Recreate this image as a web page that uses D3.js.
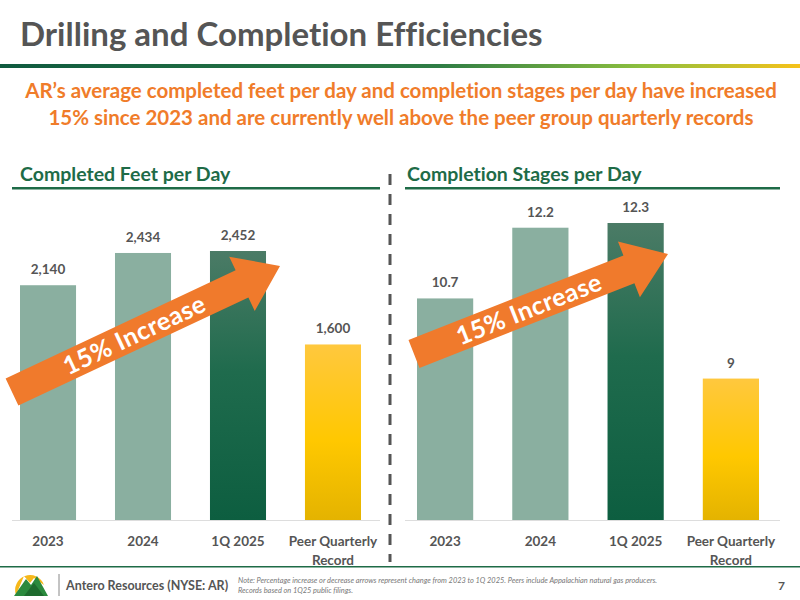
<!DOCTYPE html>
<html><head><meta charset="utf-8">
<script src="https://cdn.jsdelivr.net/npm/d3@7"></script>
<style>body{margin:0;background:#fff}svg{display:block;font-family:Lato,"Open Sans",sans-serif;font-variant-ligatures:none}</style>
</head><body><svg id="c" width="800" height="600"></svg>
<script>
const categories = ["2023","2024","1Q 2025","Peer Quarterly|Record"];
const feetValues = [2140,2434,2452,1600];
const feetLabels = ["2,140","2,434","2,452","1,600"];
const stageValues = [10.7,12.2,12.3,9];
const stageLabels = ["10.7","12.2","12.3","9"];

const svg = d3.select("#c");
const defs = svg.append("defs");
const hg = defs.append("linearGradient").attr("id","hg");
[["0%","#0f5a3f"],["55%","#2f7d45"],["80%","#8cbf3f"],["100%","#f6c21a"]].forEach(s=>hg.append("stop").attr("offset",s[0]).attr("stop-color",s[1]));
const dg = defs.append("linearGradient").attr("id","dg").attr("x1",0).attr("x2",0).attr("y1",0).attr("y2",1);
[["0%","#4b7b66"],["45%","#1f6b4d"],["100%","#0d5e40"]].forEach(s=>dg.append("stop").attr("offset",s[0]).attr("stop-color",s[1]));
const yg = defs.append("linearGradient").attr("id","yg").attr("x1",0).attr("x2",0).attr("y1",0).attr("y2",1);
[["0%","#ffc83e"],["55%","#ffc800"],["100%","#e4b300"]].forEach(s=>yg.append("stop").attr("offset",s[0]).attr("stop-color",s[1]));
const fills = ["#8aafa0","#8aafa0","url(#dg)","url(#yg)"];

svg.append("text").attr("x",20).attr("y",46).attr("font-size",33).attr("font-weight",700).attr("fill","#555").text("Drilling and Completion Efficiencies");
svg.append("rect").attr("x",0).attr("y",64).attr("width",800).attr("height",4).attr("fill","url(#hg)");
svg.append("text").attr("x",401).attr("y",98).attr("text-anchor","middle").attr("font-size",20.5).attr("font-weight",700).attr("fill","#f07c2a").text("AR’s average completed feet per day and completion stages per day have increased");
svg.append("text").attr("x",401).attr("y",125).attr("text-anchor","middle").attr("font-size",20.5).attr("font-weight",700).attr("fill","#f07c2a").text("15% since 2023 and are currently well above the peer group quarterly records");

svg.append("line").attr("x1",390).attr("x2",390).attr("y1",174).attr("y2",562).attr("stroke","#555").attr("stroke-width",3).attr("stroke-dasharray","11,9");

function drawArrow(ax,ay,bx,by){
  const len = Math.hypot(bx-ax,by-ay), ang = Math.atan2(by-ay,bx-ax)*180/Math.PI;
  const a = svg.append("g").attr("transform",`translate(${ax},${ay}) rotate(${ang})`);
  const h=15,H=30,hl=42;
  a.append("path").attr("d",`M0,${-h}L${len-hl},${-h}L${len-hl},${-H}L${len},0L${len-hl},${H}L${len-hl},${h}L0,${h}Z`).attr("fill","#f07a2c");
  a.append("text").attr("x",(len-hl)/2+8).attr("y",9).attr("text-anchor","middle").attr("font-size",25).attr("font-weight",700).attr("fill","#fff").attr("letter-spacing",0.5).text("15% Increase");
}

function panel(x0,x1,tx,title,bx0,bx1,values,labels,domain,rangeTop,arrow){
  svg.append("text").attr("x",tx).attr("y",181).attr("font-size",19.5).attr("font-weight",700).attr("fill","#1e6b47").text(title);
  svg.append("rect").attr("x",x0).attr("y",187).attr("width",x1-x0).attr("height",2.5).attr("fill","#1e6b47");
  const x = d3.scaleBand().domain(categories).range([bx0,bx1]).paddingInner(0.41).paddingOuter(0);
  const y = d3.scaleLinear().domain(domain).range([520,rangeTop]);
  svg.append("line").attr("x1",x0).attr("x2",x1).attr("y1",520.5).attr("y2",520.5).attr("stroke","#ddd");
  categories.forEach((c,i)=>{
    const cx = x(c)+x.bandwidth()/2;
    svg.append("rect").attr("x",x(c)).attr("width",x.bandwidth()).attr("y",y(values[i])).attr("height",520-y(values[i])).attr("fill",fills[i]);
    svg.append("text").attr("x",cx).attr("y",y(values[i])-11).attr("text-anchor","middle").attr("font-size",13.5).attr("font-weight",700).attr("fill","#555").text(labels[i]);
    c.split("|").forEach((t,j)=>svg.append("text").attr("x",cx).attr("y",546+j*19).attr("text-anchor","middle").attr("font-size",13.5).attr("font-weight",700).attr("fill","#555").text(t));
  });
  drawArrow(...arrow);
}
panel(12,380,20,"Completed Feet per Day",20,361,feetValues,feetLabels,[0,2452],251,[12,392,280,266]);
panel(405,780,407,"Completion Stages per Day",417,759,stageValues,stageLabels,[6,12.3],223,[414,354,668,254]);

// footer
svg.append("rect").attr("x",0).attr("y",566).attr("width",800).attr("height",1.5).attr("fill","#1e6b47");
svg.append("path").attr("d","M16,595 A14,14 0 0 1 44,585 L34,578 L30,583 L24,576 Z").attr("fill","#f6b81a");
svg.append("path").attr("d","M14,596 L26,579 L31,585 L37,576 L48,596 Z").attr("fill","#2b8a3e");
svg.append("path").attr("d","M24,596 L34,583 L44,596 Z").attr("fill","#1e6b2e");
svg.append("line").attr("x1",59).attr("x2",59).attr("y1",574).attr("y2",596).attr("stroke","#888");
svg.append("text").attr("x",66).attr("y",590).attr("font-size",12.5).attr("font-weight",700).attr("fill","#555").text("Antero Resources (NYSE: AR)");
svg.append("text").attr("x",238).attr("y",583).attr("font-size",7.4).attr("font-style","italic").attr("fill","#777").text("Note: Percentage increase or decrease arrows represent change from 2023 to 1Q 2025. Peers include Appalachian natural gas producers.");
svg.append("text").attr("x",238).attr("y",593).attr("font-size",7.4).attr("font-style","italic").attr("fill","#777").text("Records based on 1Q25 public filings.");
svg.append("text").attr("x",778).attr("y",590).attr("font-size",12).attr("font-weight",700).attr("fill","#555").text("7");
</script></body></html>
